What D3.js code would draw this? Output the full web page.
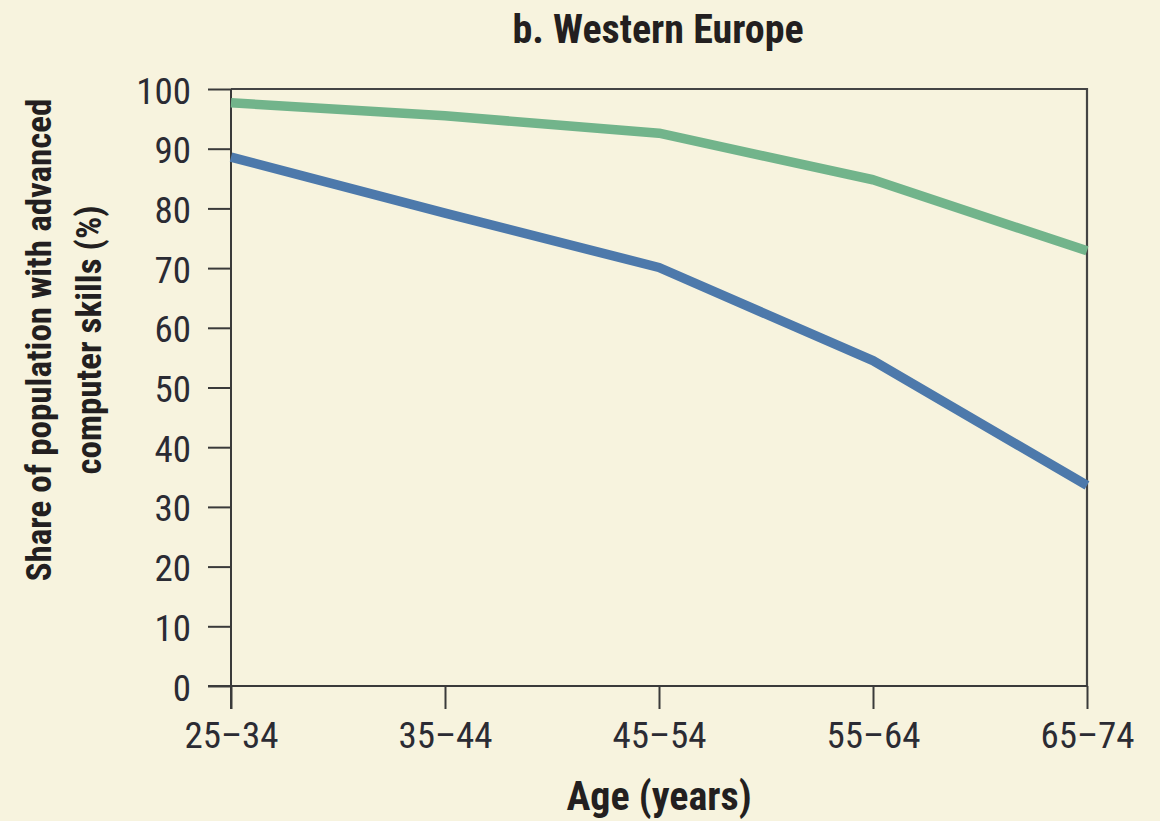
<!DOCTYPE html>
<html>
<head>
<meta charset="utf-8">
<script src="https://cdn.jsdelivr.net/npm/d3@7"></script>
<style>
  html, body { margin: 0; padding: 0; background: #f7f3de; }
  svg { display: block; }
  text { font-family: "Liberation Sans Narrow", "Roboto Condensed", "Arial Narrow", sans-serif; }
</style>
</head>
<body>
<svg id="chart" width="1160" height="821"></svg>
<script>
const categories = ["25\u201334", "35\u201344", "45\u201354", "55\u201364", "65\u201374"];
const greenValues = [97.7, 95.5, 92.6, 84.8, 72.9];
const blueValues = [88.6, 79.2, 70.1, 54.5, 33.6];
const yTicks = [0, 10, 20, 30, 40, 50, 60, 70, 80, 90, 100];
const title = "b. Western Europe";
const xLabel = "Age (years)";
const yLabelLines = ["Share of population with advanced", "computer skills (%)"];

(function () {
const svg = d3.select("#chart");
const W = 1160, H = 821;
svg.append("rect").attr("width", W).attr("height", H).attr("fill", "#f7f3de");

const pLeft = 231, pRight = 1087, pTop = 89, pBottom = 686;
const x = d3.scalePoint().domain(categories).range([pLeft, pRight]);
const y = d3.scaleLinear().domain([0, 100]).range([pBottom, pTop]);

const axisColor = "#3a3a3a";
const labelColor = "#2b2b33";

// frame top & right
svg.append("path")
  .attr("d", `M${pLeft},${pTop}H${pRight}V${pBottom}`)
  .attr("fill", "none").attr("stroke", "#444").attr("stroke-width", 2.2);

// Y axis
const yAxis = d3.axisLeft(y).tickValues(yTicks).tickSize(23).tickPadding(17).tickFormat(d3.format("d"));
const gy = svg.append("g").attr("transform", `translate(${pLeft},0)`).call(yAxis);
gy.select(".domain").attr("stroke", axisColor).attr("stroke-width", 2).attr("d", `M0,${pTop}V${pBottom + 23}`);
gy.selectAll(".tick line").attr("stroke", axisColor).attr("stroke-width", 2);
gy.selectAll(".tick text").attr("fill", labelColor).attr("font-size", 37)
  .attr("font-family", "'Liberation Sans Narrow', sans-serif").attr("dy", "0.38em");

// X axis
const xAxis = d3.axisBottom(x).tickSize(23).tickPadding(13);
const gx = svg.append("g").attr("transform", `translate(0,${pBottom})`).call(xAxis);
gx.select(".domain").attr("stroke", axisColor).attr("stroke-width", 2).attr("d", `M${pLeft - 23},0H${pRight}`);
gx.selectAll(".tick line").attr("stroke", axisColor).attr("stroke-width", 2);
gx.selectAll(".tick text").attr("fill", labelColor).attr("font-size", 37)
  .attr("font-family", "'Liberation Sans Narrow', sans-serif").attr("dy", "0.71em");

// lines
const line = d3.line().x((d, i) => x(categories[i])).y(d => y(d));
svg.append("path").datum(greenValues).attr("d", line)
  .attr("fill", "none").attr("stroke", "#72b48b").attr("stroke-width", 9.5)
  .attr("stroke-linejoin", "round");
svg.append("path").datum(blueValues).attr("d", line)
  .attr("fill", "none").attr("stroke", "#4d79ab").attr("stroke-width", 9.5)
  .attr("stroke-linejoin", "round");

// title
svg.append("text").attr("x", 658).attr("y", 43).attr("text-anchor", "middle")
  .attr("font-size", 40).attr("font-weight", "bold").attr("fill", "#231f20").text(title);

// x label
svg.append("text").attr("x", 659).attr("y", 810).attr("text-anchor", "middle")
  .attr("font-size", 40).attr("font-weight", "bold").attr("fill", "#231f20").text(xLabel);

// y label
const yl = svg.append("g").attr("transform", "translate(0,340) rotate(-90)");
yl.append("text").attr("x", 0).attr("y", 51).attr("text-anchor", "middle")
  .attr("font-size", 35).attr("font-weight", "bold").attr("fill", "#231f20").text(yLabelLines[0]);
yl.append("text").attr("x", 0).attr("y", 101).attr("text-anchor", "middle")
  .attr("font-size", 35).attr("font-weight", "bold").attr("fill", "#231f20").text(yLabelLines[1]);
})();
</script>
</body>
</html>
